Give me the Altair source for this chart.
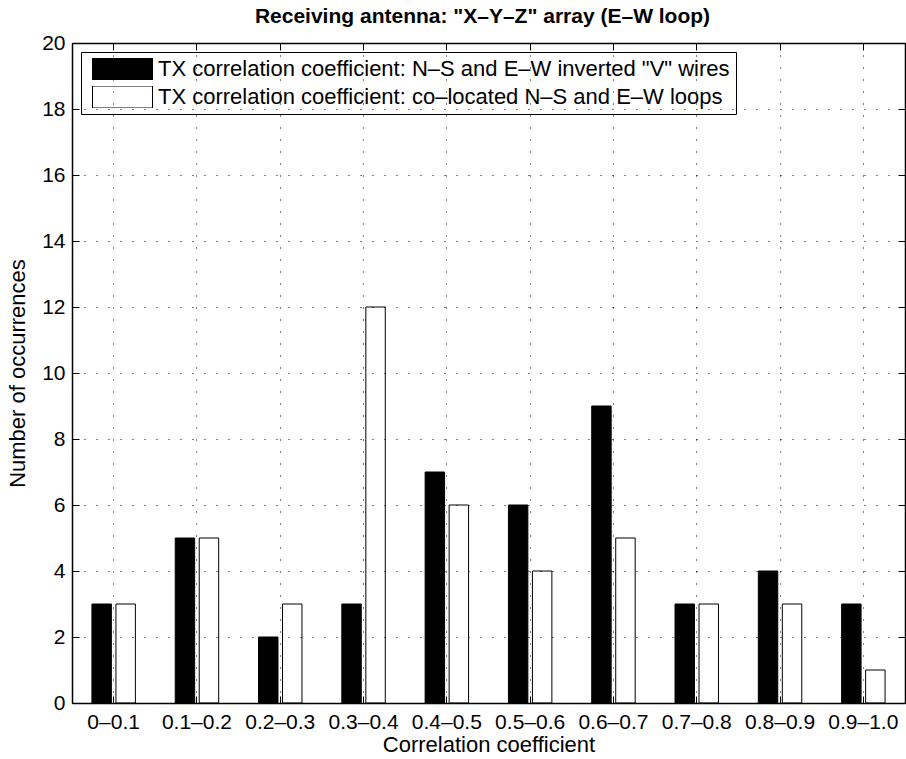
import altair as alt
import pandas as pd

categories = ["0–0.1", "0.1–0.2", "0.2–0.3", "0.3–0.4", "0.4–0.5",
              "0.5–0.6", "0.6–0.7", "0.7–0.8", "0.8–0.9", "0.9–1.0"]
vwires = [3, 5, 2, 3, 7, 6, 9, 3, 4, 3]
loops = [3, 5, 3, 12, 6, 4, 5, 3, 3, 1]
series = ['TX correlation coefficient: N–S and E–W inverted "V" wires',
          'TX correlation coefficient: co–located N–S and E–W loops']
y_ticks = list(range(0, 21, 2))

rows = []
for c, a, b in zip(categories, vwires, loops):
    rows.append({"cat": c, "series": series[0], "count": a})
    rows.append({"cat": c, "series": series[1], "count": b})
df = pd.DataFrame(rows)

W, H = 833, 660
FONT = "Liberation Sans"


def xs():
    return alt.Scale(type="band", domain=categories, paddingInner=0, paddingOuter=0)


def ys():
    return alt.Scale(domain=[0, 20], nice=False, zero=True)


base_axis = dict(labelColor="black", titleColor="black", labelFont=FONT,
                 titleFont=FONT, titleFontWeight="normal", labelFontSize=21,
                 titleFontSize=22, domainColor="black", domainWidth=1.5,
                 tickColor="black")

bars = alt.Chart(df).mark_bar(stroke="black", strokeWidth=1).encode(
    x=alt.X("cat:N", sort=categories, scale=xs(), title="Correlation coefficient",
            axis=alt.Axis(orient="bottom", labelAngle=0, ticks=False, tickSize=0,
                          labelPadding=8, titlePadding=2, grid=True,
                          gridDash=[1, 11], gridColor="black", gridWidth=1,
                          zindex=1, **base_axis)),
    xOffset=alt.XOffset("series:N", sort=series,
                        scale=alt.Scale(domain=series, paddingInner=0.19, paddingOuter=0.83)),
    y=alt.Y("count:Q", scale=ys(), title="Number of occurrences",
            axis=alt.Axis(orient="left", values=y_ticks, ticks=False, tickSize=0,
                          labelPadding=7, titlePadding=12, grid=True,
                          gridDash=[1, 11], gridColor="black", gridWidth=1,
                          zindex=1, **base_axis)),
    fill=alt.Fill("series:N", sort=series,
                  scale=alt.Scale(domain=series, range=["black", "white"]),
                  legend=alt.Legend(title=None, orient="none", legendX=9, legendY=9,
                                    direction="vertical",
                                    symbolType="M-1,-0.3667L1,-0.3667L1,0.3667L-1,0.3667Z",
                                    symbolSize=3600, symbolStrokeColor="black",
                                    symbolStrokeWidth=1, symbolOffset=5,
                                    clipHeight=22,
                                    labelOffset=5, labelFontSize=22, labelFont=FONT,
                                    labelColor="black", labelLimit=2000, padding=6,
                                    rowPadding=6, strokeColor="black",
                                    fillColor="white", cornerRadius=0)),
)

tick_common = dict(labels=False, title=None, grid=False, ticks=True, tickSize=7,
                   tickColor="black", tickWidth=1, domainColor="black",
                   domainWidth=1.5, zindex=1)

ghost = alt.Chart(df).mark_bar(opacity=0)

inner_a = ghost.encode(
    x=alt.X("cat:N", sort=categories, scale=xs(),
            axis=alt.Axis(orient="top", offset=-H, domain=False, **tick_common)),
    y=alt.Y("count:Q", scale=ys(),
            axis=alt.Axis(orient="right", offset=-W, domain=False, values=y_ticks,
                          **tick_common)),
)

inner_b = ghost.encode(
    x=alt.X("cat:N", sort=categories, scale=xs(),
            axis=alt.Axis(orient="bottom", offset=-H, domain=True, **tick_common)),
    y=alt.Y("count:Q", scale=ys(),
            axis=alt.Axis(orient="left", offset=-W, domain=True, values=y_ticks,
                          **tick_common)),
)

chart = alt.layer(bars, inner_a, inner_b).resolve_scale(
    x="independent", y="independent"
).properties(
    width=W, height=H,
    title=alt.TitleParams(text='Receiving antenna: "X–Y–Z" array (E–W loop)',
                          fontSize=21, fontWeight="bold", font=FONT, color="black",
                          anchor="middle", offset=5, dx=-6, frame="group"),
    autosize=alt.AutoSizeParams(type="none"),
    padding={"left": 72, "top": 43, "right": 1, "bottom": 56},
).configure_view(stroke=None).configure(background="white")

chart.save("out.html", embed_options={"renderer": "svg", "actions": False})
